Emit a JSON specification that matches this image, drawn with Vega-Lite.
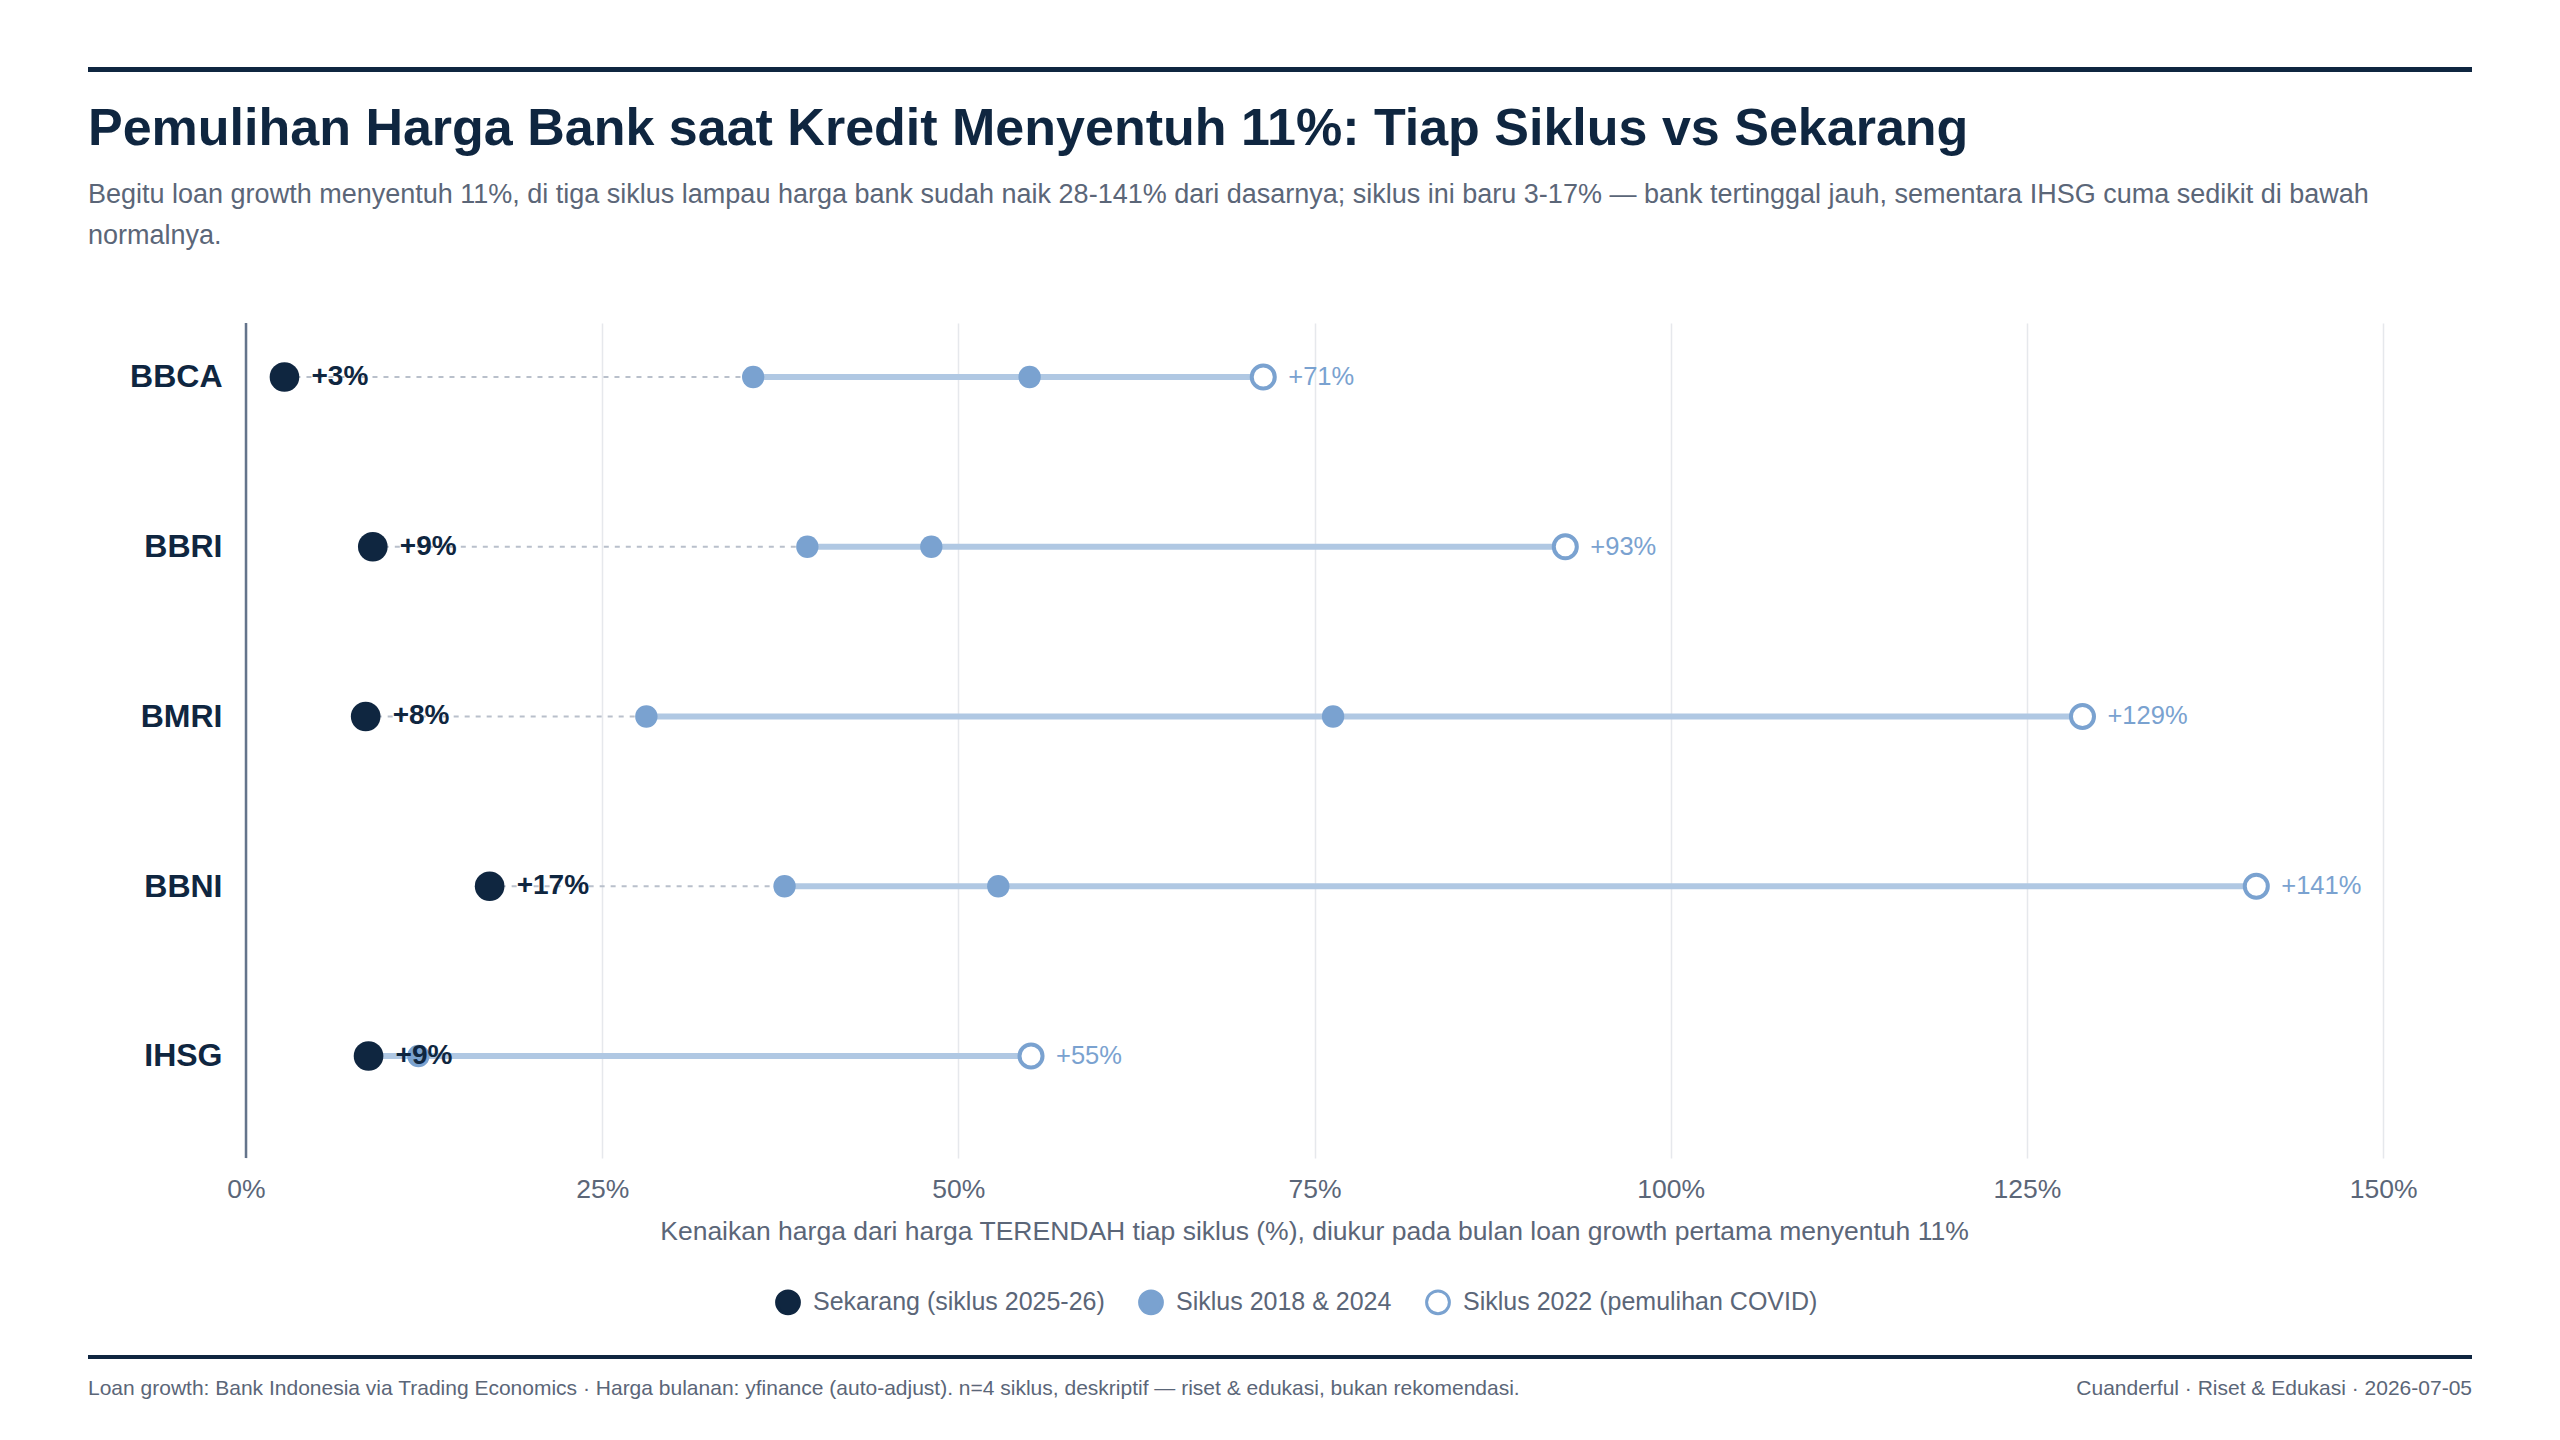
{
  "$schema": "https://vega.github.io/schema/vega-lite/v6.json",
  "background": "white",
  "padding": {"left": 88, "top": 63, "right": 0, "bottom": 0},
  "spacing": 27,
  "resolve": {
    "scale": {"fill": "independent", "stroke": "independent"},
    "legend": {"fill": "independent", "stroke": "independent"}
  },
  "config": {
    "font": "Liberation Sans",
    "view": {"stroke": null},
    "legend": {
      "symbolSize": 520,
      "symbolStrokeWidth": 3,
      "labelFontSize": 25,
      "labelColor": "#5b6678",
      "labelOffset": 12,
      "columnPadding": 28,
      "labelLimit": 600
    }
  },
  "datasets": {
    "pts": [
      {"ticker": "BBCA", "series": "Siklus 2018 & 2024", "value": 0.356},
      {"ticker": "BBCA", "series": "Siklus 2018 & 2024", "value": 0.550},
      {"ticker": "BBCA", "series": "Siklus 2022 (pemulihan COVID)", "value": 0.714},
      {"ticker": "BBRI", "series": "Siklus 2018 & 2024", "value": 0.394},
      {"ticker": "BBRI", "series": "Siklus 2018 & 2024", "value": 0.481},
      {"ticker": "BBRI", "series": "Siklus 2022 (pemulihan COVID)", "value": 0.926},
      {"ticker": "BMRI", "series": "Siklus 2018 & 2024", "value": 0.281},
      {"ticker": "BMRI", "series": "Siklus 2018 & 2024", "value": 0.763},
      {"ticker": "BMRI", "series": "Siklus 2022 (pemulihan COVID)", "value": 1.289},
      {"ticker": "BBNI", "series": "Siklus 2018 & 2024", "value": 0.378},
      {"ticker": "BBNI", "series": "Siklus 2018 & 2024", "value": 0.528},
      {"ticker": "BBNI", "series": "Siklus 2022 (pemulihan COVID)", "value": 1.411},
      {"ticker": "IHSG", "series": "Siklus 2018 & 2024", "value": 0.088},
      {"ticker": "IHSG", "series": "Siklus 2018 & 2024", "value": 0.121},
      {"ticker": "IHSG", "series": "Siklus 2022 (pemulihan COVID)", "value": 0.551},
      {"ticker": "BBCA", "series": "Sekarang (siklus 2025-26)", "value": 0.027},
      {"ticker": "BBRI", "series": "Sekarang (siklus 2025-26)", "value": 0.089},
      {"ticker": "BMRI", "series": "Sekarang (siklus 2025-26)", "value": 0.084},
      {"ticker": "BBNI", "series": "Sekarang (siklus 2025-26)", "value": 0.171},
      {"ticker": "IHSG", "series": "Sekarang (siklus 2025-26)", "value": 0.086}
    ]
  },
  "vconcat": [
    {
      "width": 2384,
      "height": 5,
      "view": {"fill": "#0f2640", "stroke": null},
      "data": {"values": [{"t": ""}]},
      "mark": {"type": "text"},
      "encoding": {"text": {"field": "t"}}
    },
    {
      "width": 2384,
      "height": 835,
      "title": {
        "text": "Pemulihan Harga Bank saat Kredit Menyentuh 11%: Tiap Siklus vs Sekarang",
        "subtitle": [
          "Begitu loan growth menyentuh 11%, di tiga siklus lampau harga bank sudah naik 28-141% dari dasarnya; siklus ini baru 3-17% — bank tertinggal jauh, sementara IHSG cuma sedikit di bawah",
          "normalnya."
        ],
        "anchor": "start",
        "frame": "group",
        "offset": 72,
        "font": "Liberation Sans",
        "fontSize": 52,
        "fontWeight": "bold",
        "color": "#0f2640",
        "subtitleFont": "Liberation Sans",
        "subtitleFontSize": 27,
        "subtitleColor": "#5b6678",
        "subtitleLineHeight": 41,
        "subtitlePadding": 26
      },
      "data": {"name": "pts"},
      "layer": [
        {
          "data": {"values": [{"z": 0}]},
          "mark": {"type": "rule", "color": "#64748b", "strokeWidth": 2.5},
          "encoding": {
            "x": {"field": "z", "type": "quantitative", "title": "Kenaikan harga dari harga TERENDAH tiap siklus (%), diukur pada bulan loan growth pertama menyentuh 11%"}
          }
        },
        {
          "transform": [
            {"pivot": "series", "value": "value", "groupby": ["ticker"], "op": "min"}
          ],
          "mark": {"type": "rule", "color": "#b9c0cb", "strokeWidth": 2, "strokeDash": [5, 6]},
          "encoding": {
            "y": {"field": "ticker", "type": "nominal", "title": null},
            "x": {"field": "Sekarang (siklus 2025-26)", "type": "quantitative", "title": "Kenaikan harga dari harga TERENDAH tiap siklus (%), diukur pada bulan loan growth pertama menyentuh 11%"},
            "x2": {"field": "Siklus 2018 & 2024"}
          }
        },
        {
          "transform": [
            {"pivot": "series", "value": "value", "groupby": ["ticker"], "op": "min"}
          ],
          "mark": {"type": "rule", "color": "#b0c8e3", "strokeWidth": 6},
          "encoding": {
            "y": {"field": "ticker", "type": "nominal", "title": null},
            "x": {"field": "Siklus 2018 & 2024", "type": "quantitative", "title": "Kenaikan harga dari harga TERENDAH tiap siklus (%), diukur pada bulan loan growth pertama menyentuh 11%"},
            "x2": {"field": "Siklus 2022 (pemulihan COVID)"}
          }
        },
        {
          "transform": [{"filter": "datum.series === 'Siklus 2018 & 2024'"}],
          "mark": {"type": "circle", "size": 500, "strokeWidth": 0, "opacity": 1},
          "encoding": {
            "x": {
              "field": "value",
              "type": "quantitative",
              "title": "Kenaikan harga dari harga TERENDAH tiap siklus (%), diukur pada bulan loan growth pertama menyentuh 11%",
              "scale": {"domain": [-0.1109, 1.5624], "nice": false, "zero": false},
              "axis": {
                "values": [0, 0.25, 0.5, 0.75, 1, 1.25, 1.5],
                "format": ".0%",
                "grid": true,
                "gridColor": "#e6e8ec",
                "gridWidth": 1.5,
                "domain": false,
                "ticks": false,
                "labelFontSize": 26.5,
                "labelColor": "#5b6678",
                "labelPadding": 18,
                "titleFontSize": 26.5,
                "titleFontWeight": "normal",
                "titleColor": "#5b6678",
                "titlePadding": 16,
                "titleX": 1226
              }
            },
            "y": {
              "field": "ticker",
              "type": "nominal",
              "title": null,
              "sort": ["BBCA", "BBRI", "BMRI", "BBNI", "IHSG"],
              "scale": {"type": "point", "domain": ["BBCA", "BBRI", "BMRI", "BBNI", "IHSG"], "padding": 0.4595, "align": 0.346},
              "axis": {
                "offset": -158,
                "domain": false,
                "ticks": false,
                "grid": false,
                "labelFontSize": 32,
                "labelFontWeight": "bold",
                "labelColor": "#0f2640",
                "labelPadding": 24
              }
            },
            "fill": {
              "field": "series",
              "type": "nominal",
              "scale": {
                "domain": ["Sekarang (siklus 2025-26)", "Siklus 2018 & 2024", "Siklus 2022 (pemulihan COVID)"],
                "range": ["#0f2640", "#7aa2d0", "#ffffff"]
              },
              "legend": {
                "title": null,
                "orient": "none",
                "direction": "horizontal",
                "legendX": 679,
                "legendY": 958,
                "padding": 8
              }
            },
            "stroke": {
              "field": "series",
              "type": "nominal",
              "scale": {
                "domain": ["Sekarang (siklus 2025-26)", "Siklus 2018 & 2024", "Siklus 2022 (pemulihan COVID)"],
                "range": ["#0f2640", "#7aa2d0", "#7aa2d0"]
              },
              "legend": {
                "title": null,
                "orient": "none",
                "direction": "horizontal",
                "legendX": 679,
                "legendY": 958,
                "padding": 8
              }
            }
          }
        },
        {
          "transform": [{"filter": "datum.series === 'Siklus 2022 (pemulihan COVID)'"}],
          "mark": {"type": "circle", "size": 531, "strokeWidth": 4, "opacity": 1},
          "encoding": {
            "x": {"field": "value", "type": "quantitative", "title": "Kenaikan harga dari harga TERENDAH tiap siklus (%), diukur pada bulan loan growth pertama menyentuh 11%"},
            "y": {"field": "ticker", "type": "nominal", "title": null},
            "fill": {"field": "series", "type": "nominal"},
            "stroke": {"field": "series", "type": "nominal"}
          }
        },
        {
          "transform": [{"filter": "datum.series === 'Sekarang (siklus 2025-26)'"}],
          "mark": {"type": "circle", "size": 880, "strokeWidth": 0, "opacity": 1},
          "encoding": {
            "x": {"field": "value", "type": "quantitative", "title": "Kenaikan harga dari harga TERENDAH tiap siklus (%), diukur pada bulan loan growth pertama menyentuh 11%"},
            "y": {"field": "ticker", "type": "nominal", "title": null},
            "fill": {"field": "series", "type": "nominal"},
            "stroke": {"field": "series", "type": "nominal"}
          }
        },
        {
          "transform": [{"filter": "datum.series === 'Sekarang (siklus 2025-26)'"}],
          "mark": {"type": "text", "align": "left", "baseline": "middle", "dx": 27, "fontSize": 28, "fontWeight": "bold", "color": "#0f2640"},
          "encoding": {
            "x": {"field": "value", "type": "quantitative", "title": "Kenaikan harga dari harga TERENDAH tiap siklus (%), diukur pada bulan loan growth pertama menyentuh 11%"},
            "y": {"field": "ticker", "type": "nominal", "title": null},
            "text": {"field": "value", "format": "+.0%"}
          }
        },
        {
          "transform": [{"filter": "datum.series === 'Siklus 2022 (pemulihan COVID)'"}],
          "mark": {"type": "text", "align": "left", "baseline": "middle", "dx": 25, "fontSize": 25.5, "color": "#7aa2d0"},
          "encoding": {
            "x": {"field": "value", "type": "quantitative", "title": "Kenaikan harga dari harga TERENDAH tiap siklus (%), diukur pada bulan loan growth pertama menyentuh 11%"},
            "y": {"field": "ticker", "type": "nominal", "title": null},
            "text": {"field": "value", "format": "+.0%"}
          }
        }
      ]
    },
    {
      "width": 2384,
      "height": 4,
      "view": {"fill": "#0f2640", "stroke": null},
      "data": {
        "values": [
          {"side": "left", "text": "Loan growth: Bank Indonesia via Trading Economics · Harga bulanan: yfinance (auto-adjust). n=4 siklus, deskriptif — riset & edukasi, bukan rekomendasi."},
          {"side": "right", "text": "Cuanderful · Riset & Edukasi · 2026-07-05"}
        ]
      },
      "layer": [
        {
          "transform": [{"filter": "datum.side === 'left'"}],
          "mark": {"type": "text", "align": "left", "baseline": "middle", "dy": 32, "fontSize": 21, "color": "#5b6678"},
          "encoding": {
            "x": {"field": "side", "type": "nominal", "scale": {"type": "point", "padding": 0, "domain": ["left", "right"]}, "axis": null},
            "text": {"field": "text"}
          }
        },
        {
          "transform": [{"filter": "datum.side === 'right'"}],
          "mark": {"type": "text", "align": "right", "baseline": "middle", "dy": 32, "fontSize": 21, "color": "#5b6678"},
          "encoding": {
            "x": {"field": "side", "type": "nominal", "scale": {"type": "point", "padding": 0, "domain": ["left", "right"]}, "axis": null},
            "text": {"field": "text"}
          }
        }
      ]
    }
  ]
}
